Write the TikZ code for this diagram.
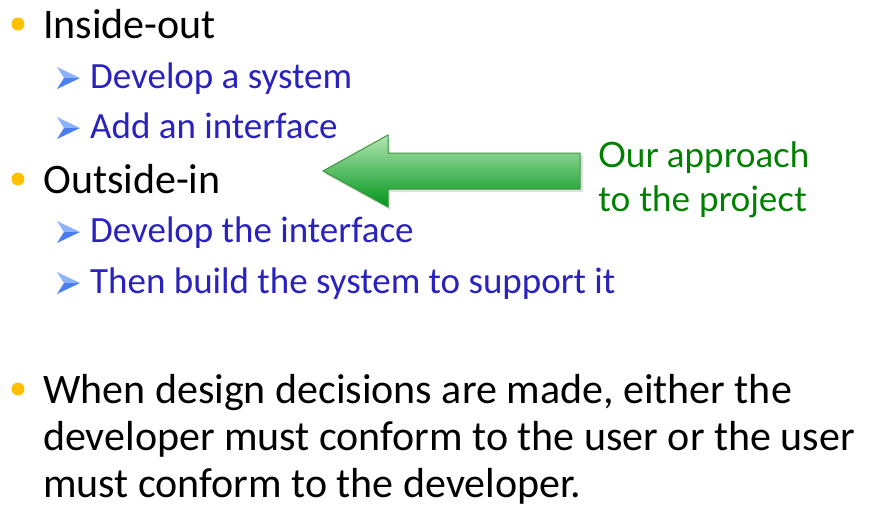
\documentclass[tikz,border=0pt]{standalone}
\usepackage{fontspec}
\setmainfont{Carlito}
\newfontfamily\notefont{Lato}
\usetikzlibrary{positioning}
\definecolor{itemblue}{HTML}{2A22BE}
\definecolor{dotyellow}{HTML}{FFC000}
\definecolor{notegreen}{HTML}{008000}
\definecolor{tiplight}{HTML}{8CB2FF}
\definecolor{tipdark}{HTML}{4A7FF2}
\definecolor{arrowedge}{HTML}{3C963C}
\definecolor{arrowlight}{HTML}{B2E6B2}
\definecolor{arrowdark}{HTML}{00961A}

\begin{document}
\begin{tikzpicture}[x=1pt,y=-1pt,
    every node/.style={inner sep=0pt,anchor=base west},
    topitem/.style={font=\fontsize{42}{48}\selectfont},
    subitem/.style={itemblue,font=\fontsize{37}{44}\selectfont},
    dot/.style={circle,fill=dotyellow,minimum size=13pt,anchor=center}]
  \useasboundingbox (0,0) rectangle (875,504);
  % upper list
  \node[topitem] (inout) at (43,38) {Inside-out};
  \node[subitem] (devsys) at (90,88) {Develop a system};
  \node[subitem] (addui) at (90,138) {Add an interface};
  \node[topitem] (outin) at (43,193) {Outside-in};
  \node[subitem] (devui) at (90,242) {Develop the interface};
  \node[subitem] (build) at (90,293) {Then build the system to support it};
  % closing remark
  \node[topitem] (decide1) at (43,403) {When design decisions are made, either the};
  \node[topitem] (decide2) at ([yshift=-47pt]decide1.base west) {developer must conform to the user or the user};
  \node[topitem] (decide3) at ([yshift=-47pt]decide2.base west) {must conform to the developer.};
  % note on the right
  \node[notegreen,font=\notefont\fontsize{35}{44}\selectfont] (approach) at (598,167) {Our approach};
  \node[notegreen,font=\notefont\fontsize{35}{44}\selectfont] (project) at ([yshift=-44pt]approach.base west) {to the project};
  % bullets
  \foreach \n in {inout,outin,decide1}
    \node[dot] at ([xshift=-25pt,yshift=14pt]\n.base west) {};
  \foreach \n in {devsys,addui,devui,build} {
    \fill[tiplight] ([xshift=-33pt,yshift=21pt]\n.base west) -- ([xshift=-10pt,yshift=10pt]\n.base west)
      -- ([xshift=-26pt,yshift=10pt]\n.base west) -- cycle;
    \fill[tipdark] ([xshift=-26pt,yshift=10pt]\n.base west) -- ([xshift=-10pt,yshift=10pt]\n.base west)
      -- ([xshift=-33pt,yshift=-1pt]\n.base west) -- cycle;
  }
  % big arrow
  \fill[black!12] (325,174) -- (390,138) -- (390,156) -- (583,156) -- (583,192) -- (390,192) -- (390,210) -- cycle;
  \shade[top color=arrowlight,bottom color=arrowdark,draw=arrowedge,line width=1pt]
    (323,171) -- (388,135) -- (388,153) -- (580,153) -- (580,189) -- (388,189) -- (388,207) -- cycle;
\end{tikzpicture}
\end{document}
